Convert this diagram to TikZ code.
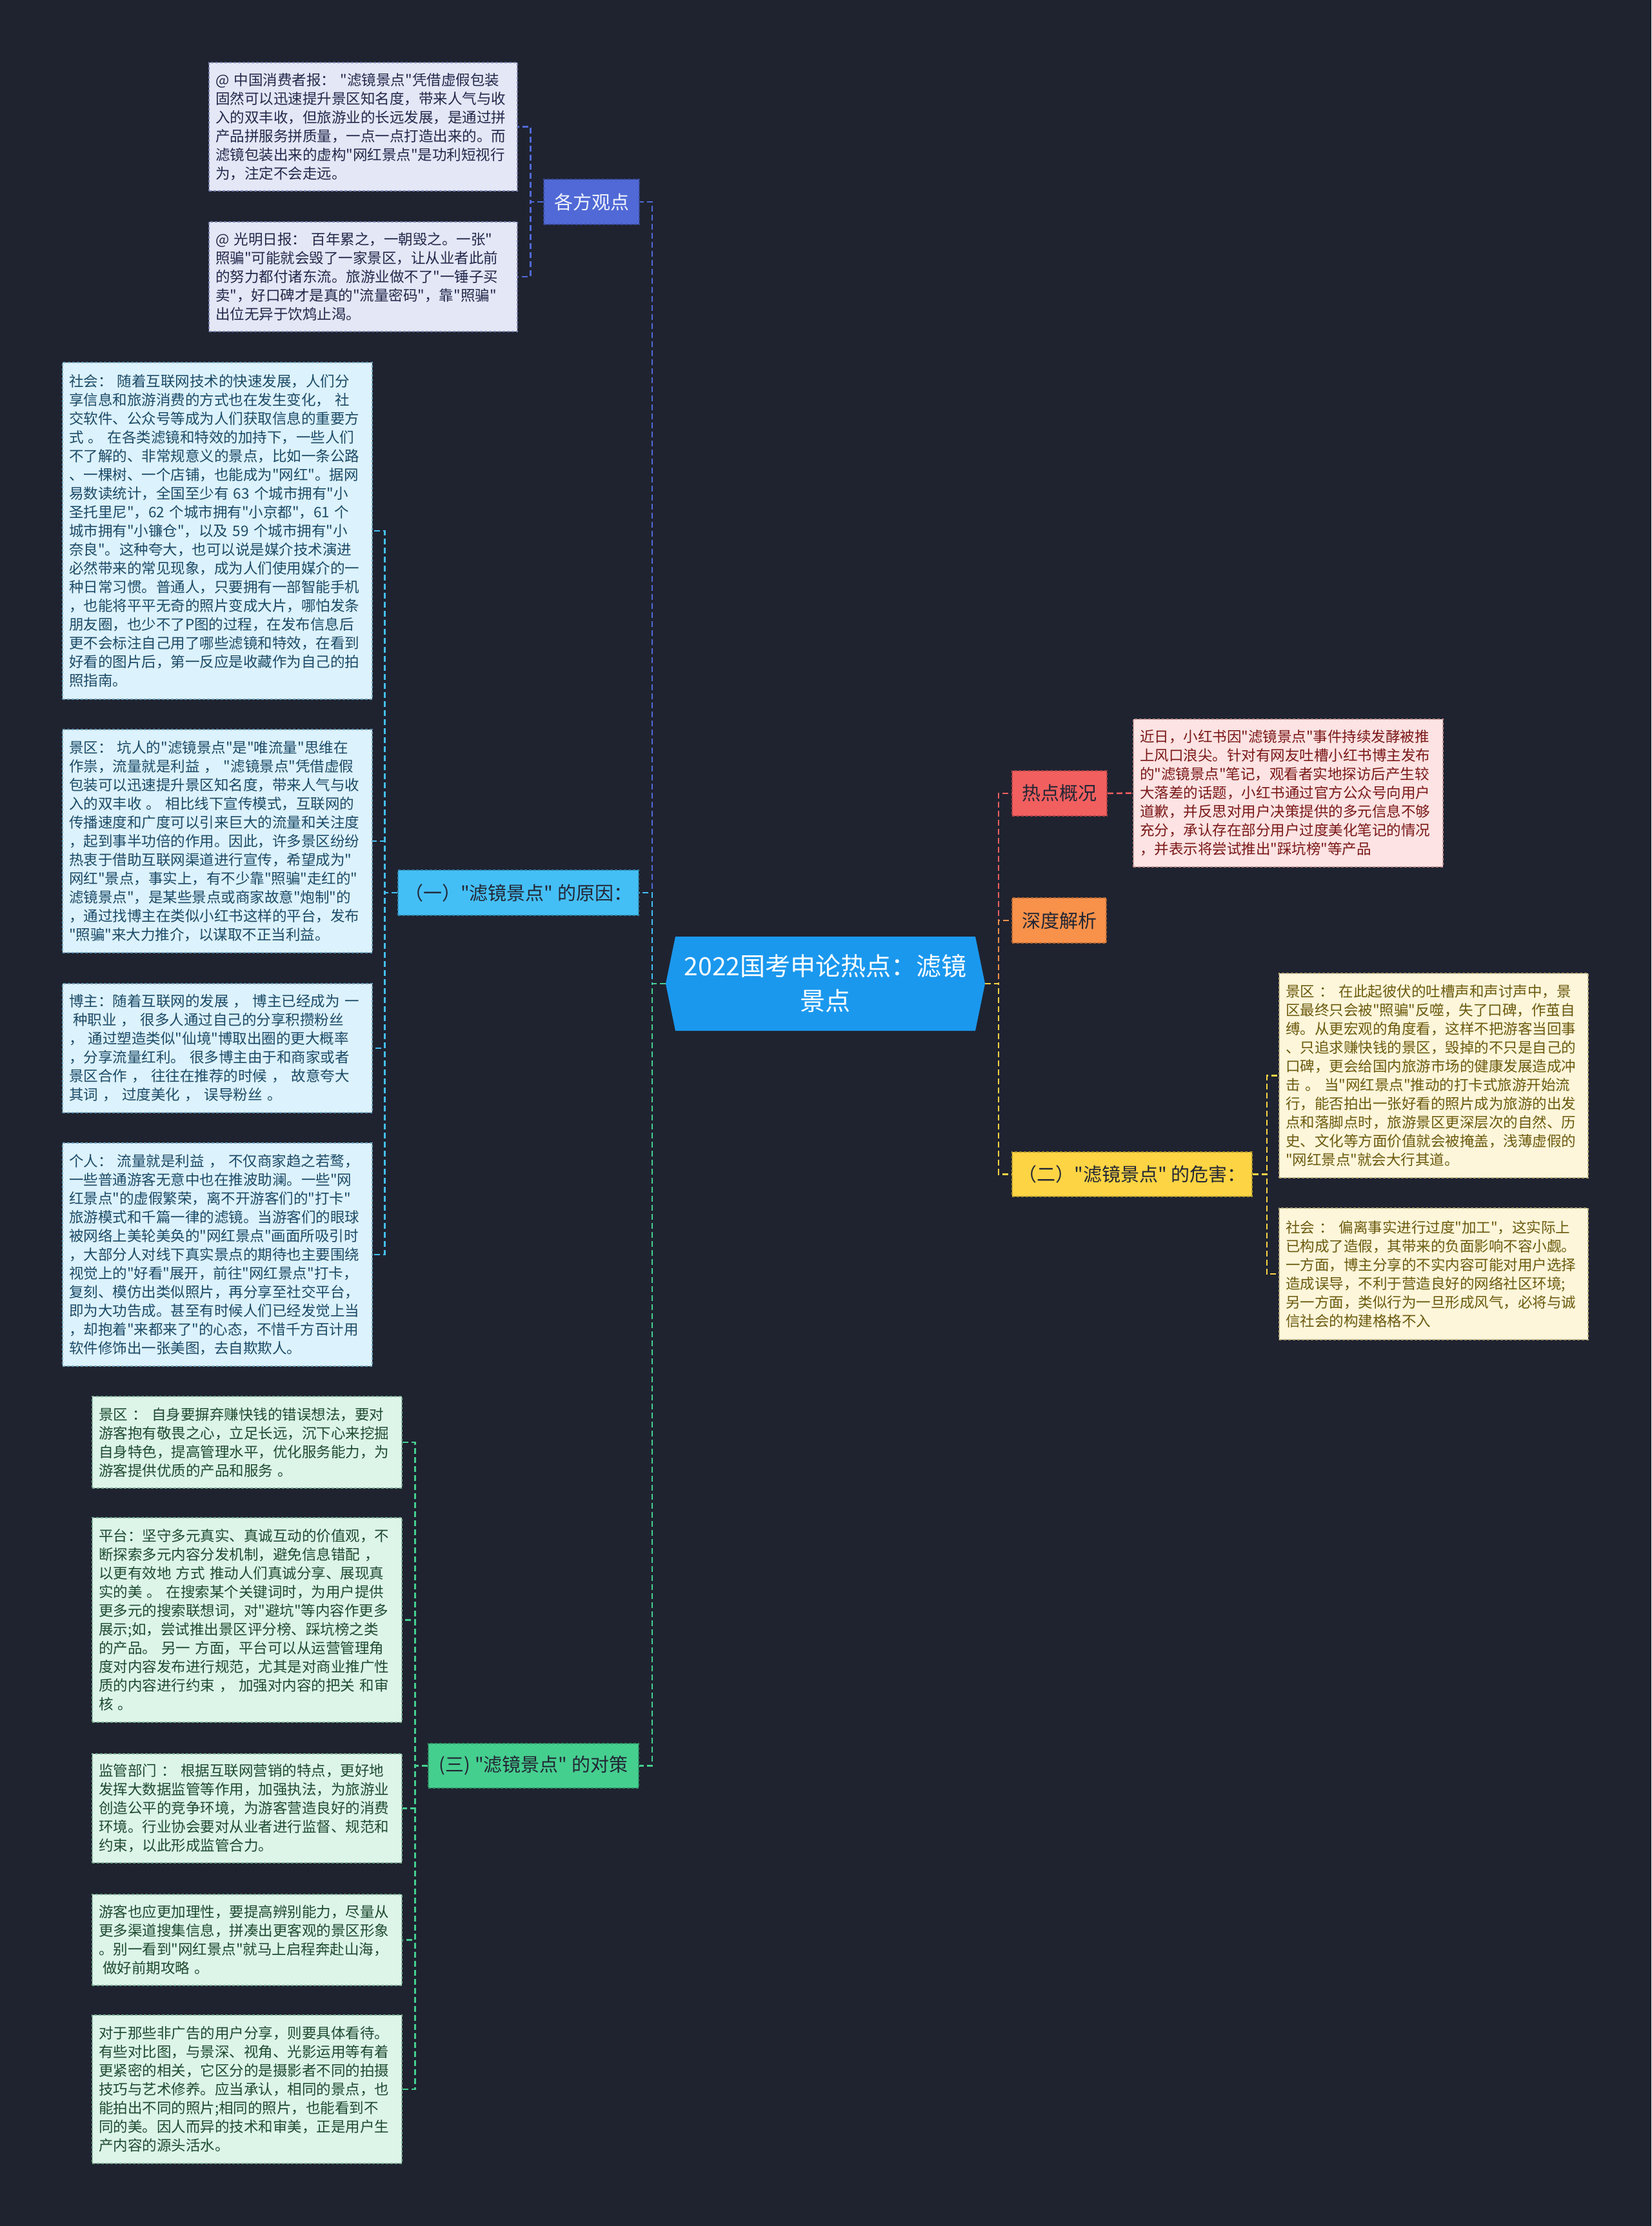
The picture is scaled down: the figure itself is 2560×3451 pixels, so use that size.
\documentclass[tikz,border=0pt]{standalone}
\usepackage{fontspec}
\newfontfamily\cjk{Noto Sans CJK SC}
\definecolor{bg}{HTML}{1F2330}
\definecolor{rootblue}{HTML}{1A98EE}
\definecolor{cA}{HTML}{5069D6}
\definecolor{cB}{HTML}{44BFF6}
\definecolor{cC}{HTML}{45CF8F}
\definecolor{cD}{HTML}{F25F5F}
\definecolor{cO}{HTML}{F8914A}
\definecolor{cE}{HTML}{FDD443}
\definecolor{Afill}{HTML}{E4E7F6}
\definecolor{Atext}{HTML}{23284A}
\definecolor{Aedge}{HTML}{7A82B0}
\definecolor{Bfill}{HTML}{DCF2FC}
\definecolor{Btext}{HTML}{1B4A66}
\definecolor{Bedge}{HTML}{6FA2BE}
\definecolor{Cfill}{HTML}{DDF5E9}
\definecolor{Ctext}{HTML}{1E4A30}
\definecolor{Cedge}{HTML}{7AAE92}
\definecolor{Dfill}{HTML}{FDE3E3}
\definecolor{Dtext}{HTML}{7A1717}
\definecolor{Dedge}{HTML}{BE8E8E}
\definecolor{Efill}{HTML}{FDF6DA}
\definecolor{Etext}{HTML}{6B5A0E}
\definecolor{Eedge}{HTML}{B8A978}
\definecolor{darklab}{HTML}{222634}
\tikzset{
  conn/.style={line width=2.5pt, dash pattern=on 9pt off 5pt},
  leaf/.style={rectangle, text width=460pt, inner xsep=10pt, inner ysep=0pt,
    align=left, font=\cjk\fontsize{22.5}{29}\selectfont, line width=1.5pt,
    dash pattern=on 4pt off 3pt},
  leafA/.style={leaf, fill=Afill, draw=Aedge, text=Atext, text width=458pt},
  leafB/.style={leaf, fill=Bfill, draw=Bedge, text=Btext},
  leafC/.style={leaf, fill=Cfill, draw=Cedge, text=Ctext},
  leafD/.style={leaf, fill=Dfill, draw=Dedge, text=Dtext},
  leafE/.style={leaf, fill=Efill, draw=Eedge, text=Etext, text width=459pt},
  branch/.style={rectangle, inner sep=0pt, font=\cjk\fontsize{29}{34}\selectfont,
    line width=1.5pt, dash pattern=on 4pt off 3pt, text=darklab},
  rootnode/.style={rectangle, inner sep=0pt, minimum width=495pt, minimum height=146pt,
    align=center, text=white, font=\cjk\fontsize{39}{54}\selectfont, fill=bg}
}
\begin{document}
\begin{tikzpicture}[x=1pt,y=-1pt]
\fill[bg] (0,0) rectangle (2560,3451);
\useasboundingbox (0,0) rectangle (2560,3451);

% root
\node[rootnode, path picture={\fill[rootblue]
  (path picture bounding box.west) --
  ([xshift=15pt]path picture bounding box.north west) --
  ([xshift=-15pt]path picture bounding box.north east) --
  (path picture bounding box.east) --
  ([xshift=-15pt]path picture bounding box.south east) --
  ([xshift=15pt]path picture bounding box.south west) -- cycle;}]
  (root) at (1279.5,1525) {2022国考申论热点：滤镜\\景点};

% branch nodes
\node[branch, fill=cA, draw=cA!70!black, text=white!92!cA, minimum width=148pt, minimum height=70pt] (gf) at (917,313) {各方观点};
\node[branch, fill=cB, draw=cB!70!black, minimum width=373pt, minimum height=70pt] (yi) at (803.5,1384) {（一）"滤镜景点" 的原因：};
\node[branch, fill=cC, draw=cC!70!black, minimum width=326pt, minimum height=69pt] (san) at (827,2737.5) {(三) "滤镜景点" 的对策};
\node[branch, fill=cD, draw=cD!70!black, minimum width=147pt, minimum height=70pt] (rd) at (1642.5,1230) {热点概况};
\node[branch, fill=cO, draw=cO!70!black, minimum width=146pt, minimum height=70pt] (sd) at (1642,1427) {深度解析};
\node[branch, fill=cE, draw=cE!70!black, minimum width=372pt, minimum height=69pt] (er) at (1755,1820.5) {（二）"滤镜景点" 的危害：};

% leaves A
\node[leafA, minimum height=199pt] (a1) at (563,196.5) {@ 中国消费者报： "滤镜景点"凭借虚假包装\\固然可以迅速提升景区知名度，带来人气与收\\入的双丰收，但旅游业的长远发展，是通过拼\\产品拼服务拼质量，一点一点打造出来的。而\\滤镜包装出来的虚构"网红景点"是功利短视行\\为，注定不会走远。};
\node[leafA, minimum height=170pt] (a2) at (563,429) {@ 光明日报： 百年累之，一朝毁之。一张"\\照骗"可能就会毁了一家景区，让从业者此前\\的努力都付诸东流。旅游业做不了"一锤子买\\卖"，好口碑才是真的"流量密码"，靠"照骗"\\出位无异于饮鸩止渴。};

% leaves B
\node[leafB, minimum height=522pt] (b1) at (337,823) {社会： 随着互联网技术的快速发展，人们分\\享信息和旅游消费的方式也在发生变化， 社\\交软件、公众号等成为人们获取信息的重要方\\式 。 在各类滤镜和特效的加持下，一些人们\\不了解的、非常规意义的景点，比如一条公路\\、一棵树、一个店铺，也能成为"网红"。据网\\易数读统计，全国至少有 63 个城市拥有"小\\圣托里尼"，62 个城市拥有"小京都"，61 个\\城市拥有"小镰仓"，以及 59 个城市拥有"小\\奈良"。这种夸大，也可以说是媒介技术演进\\必然带来的常见现象，成为人们使用媒介的一\\种日常习惯。普通人，只要拥有一部智能手机\\，也能将平平无奇的照片变成大片，哪怕发条\\朋友圈，也少不了P图的过程，在发布信息后\\更不会标注自己用了哪些滤镜和特效，在看到\\好看的图片后，第一反应是收藏作为自己的拍\\照指南。};
\node[leafB, minimum height=346pt] (b2) at (337,1304) {景区： 坑人的"滤镜景点"是"唯流量"思维在\\作祟，流量就是利益 ， "滤镜景点"凭借虚假\\包装可以迅速提升景区知名度，带来人气与收\\入的双丰收 。 相比线下宣传模式，互联网的\\传播速度和广度可以引来巨大的流量和关注度\\，起到事半功倍的作用。因此，许多景区纷纷\\热衷于借助互联网渠道进行宣传，希望成为"\\网红"景点，事实上，有不少靠"照骗"走红的"\\滤镜景点"，是某些景点或商家故意"炮制"的\\，通过找博主在类似小红书这样的平台，发布\\"照骗"来大力推介，以谋取不正当利益。};
\node[leafB, minimum height=200pt] (b3) at (337,1625) {博主：随着互联网的发展 ， 博主已经成为 一\\\hspace*{6pt}种职业 ， 很多人通过自己的分享积攒粉丝\\， 通过塑造类似"仙境"博取出圈的更大概率\\，分享流量红利。 很多博主由于和商家或者\\景区合作 ， 往往在推荐的时候 ， 故意夸大\\其词 ， 过度美化 ， 误导粉丝 。};
\node[leafB, minimum height=346pt] (b4) at (337,1945) {个人： 流量就是利益 ， 不仅商家趋之若鹜，\\一些普通游客无意中也在推波助澜。一些"网\\红景点"的虚假繁荣，离不开游客们的"打卡"\\旅游模式和千篇一律的滤镜。当游客们的眼球\\被网络上美轮美奂的"网红景点"画面所吸引时\\，大部分人对线下真实景点的期待也主要围绕\\视觉上的"好看"展开，前往"网红景点"打卡，\\复刻、模仿出类似照片，再分享至社交平台，\\即为大功告成。甚至有时候人们已经发觉上当\\，却抱着"来都来了"的心态，不惜千方百计用\\软件修饰出一张美图，去自欺欺人。};

% leaves C
\node[leafC, minimum height=142pt] (c1) at (383,2236) {景区 ： 自身要摒弃赚快钱的错误想法，要对\\游客抱有敬畏之心，立足长远，沉下心来挖掘\\自身特色，提高管理水平，优化服务能力，为\\游客提供优质的产品和服务 。};
\node[leafC, minimum height=317pt] (c2) at (383,2511.5) {平台：坚守多元真实、真诚互动的价值观，不\\断探索多元内容分发机制，避免信息错配 ，\\以更有效地 方式 推动人们真诚分享、展现真\\实的美 。 在搜索某个关键词时，为用户提供\\更多元的搜索联想词，对"避坑"等内容作更多\\展示;如，尝试推出景区评分榜、踩坑榜之类\\的产品。 另一 方面，平台可以从运营管理角\\度对内容发布进行规范，尤其是对商业推广性\\质的内容进行约束 ， 加强对内容的把关 和审\\核 。};
\node[leafC, minimum height=169pt] (c3) at (383,2803.5) {监管部门 ： 根据互联网营销的特点，更好地\\发挥大数据监管等作用，加强执法，为旅游业\\创造公平的竞争环境，为游客营造良好的消费\\环境。行业协会要对从业者进行监督、规范和\\约束，以此形成监管合力。};
\node[leafC, minimum height=141pt] (c4) at (383,3007.5) {游客也应更加理性，要提高辨别能力，尽量从\\更多渠道搜集信息，拼凑出更客观的景区形象\\。别一看到"网红景点"就马上启程奔赴山海，\\\hspace*{6pt}做好前期攻略 。};
\node[leafC, minimum height=230pt] (c5) at (383,3239) {对于那些非广告的用户分享，则要具体看待。\\有些对比图，与景深、视角、光影运用等有着\\更紧密的相关，它区分的是摄影者不同的拍摄\\技巧与艺术修养。应当承认，相同的景点，也\\能拍出不同的照片;相同的照片，也能看到不\\同的美。因人而异的技术和审美，正是用户生\\产内容的源头活水。};

% leaf D
\node[leafD, minimum height=229pt] (d1) at (1997,1229.5) {近日，小红书因"滤镜景点"事件持续发酵被推\\上风口浪尖。针对有网友吐槽小红书博主发布\\的"滤镜景点"笔记，观看者实地探访后产生较\\大落差的话题，小红书通过官方公众号向用户\\道歉，并反思对用户决策提供的多元信息不够\\充分，承认存在部分用户过度美化笔记的情况\\，并表示将尝试推出"踩坑榜"等产品};

% leaves E
\node[leafE, minimum height=317pt] (e1) at (2222.5,1667.5) {景区 ： 在此起彼伏的吐槽声和声讨声中，景\\区最终只会被"照骗"反噬，失了口碑，作茧自\\缚。从更宏观的角度看，这样不把游客当回事\\、只追求赚快钱的景区，毁掉的不只是自己的\\口碑，更会给国内旅游市场的健康发展造成冲\\击 。 当"网红景点"推动的打卡式旅游开始流\\行，能否拍出一张好看的照片成为旅游的出发\\点和落脚点时，旅游景区更深层次的自然、历\\史、文化等方面价值就会被掩盖，浅薄虚假的\\"网红景点"就会大行其道。};
\node[leafE, minimum height=204pt] (e2) at (2222.5,1975) {社会 ： 偏离事实进行过度"加工"，这实际上\\已构成了造假，其带来的负面影响不容小觑。\\一方面，博主分享的不实内容可能对用户选择\\造成误导，不利于营造良好的网络社区环境;\\另一方面，类似行为一旦形成风气，必将与诚\\信社会的构建格格不入};

% main connectors (left)
\draw[conn, cA] (root.west) -- ++(-21,0) |- (gf.east);
\draw[conn, cB] (root.west) -- ++(-21,0) |- (yi.east);
\draw[conn, cC] (root.west) -- ++(-21,0) |- (san.east);
% main connectors (right)
\draw[conn, cD] (root.east) -- ++(21,0) |- (rd.west);
\draw[conn, cO] (root.east) -- ++(21,0) |- (sd.west);
\draw[conn, cE] (root.east) -- ++(21,0) |- (er.west);

% child connectors
\draw[conn, cA] (gf.west) -- ++(-20,0) |- (a1.east);
\draw[conn, cA] (gf.west) -- ++(-20,0) |- (a2.east);
\foreach \n in {b1,b2,b3,b4} \draw[conn, cB] (yi.west) -- ++(-20,0) |- (\n.east);
\foreach \n in {c1,c2,c3,c4,c5} \draw[conn, cC] (san.west) -- ++(-20,0) |- (\n.east);
\draw[conn, cD] (rd.east) -- (d1.west);
\foreach \n in {e1,e2} \draw[conn, cE] (er.east) -- ++(22,0) |- (\n.west);
\end{tikzpicture}
\end{document}
